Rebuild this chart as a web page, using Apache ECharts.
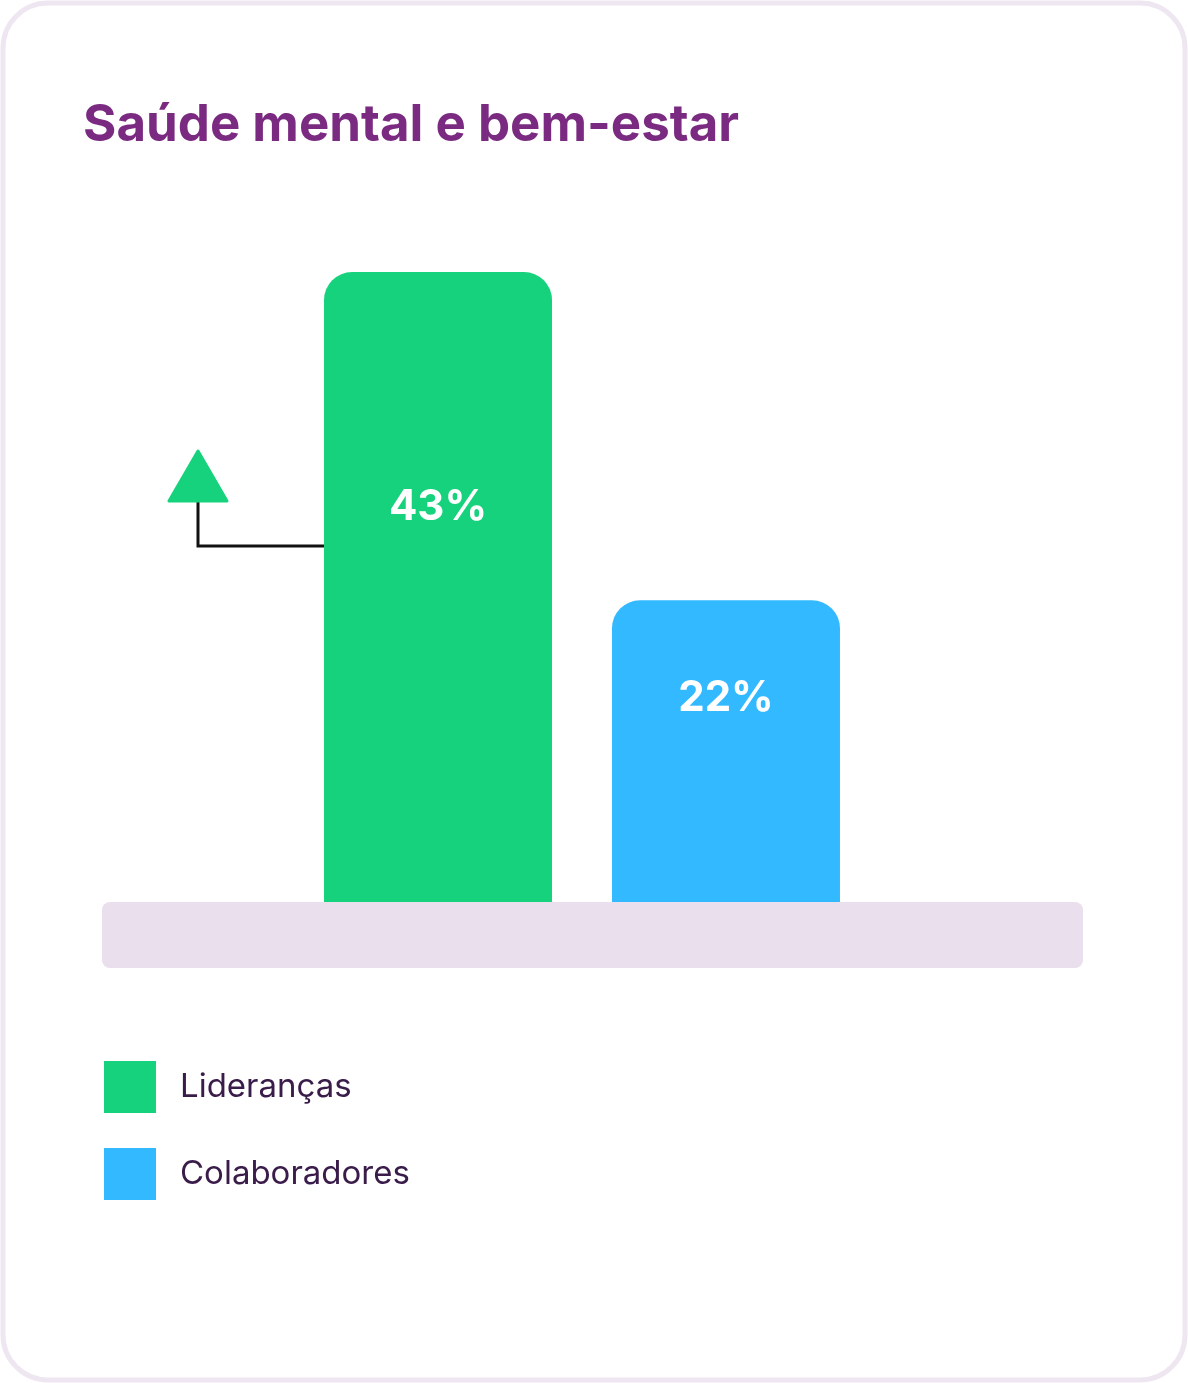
<!DOCTYPE html>
<html>
<head>
<meta charset="utf-8">
<script src="https://cdn.jsdelivr.net/npm/echarts@6/dist/echarts.min.js"></script>
<style>
html,body{margin:0;padding:0;background:#fff;}
#chart{width:1188px;height:1383px;}
</style>
</head>
<body>
<div id="chart"></div>
<script>
var title = 'Saúde mental e bem-estar';
var categories = ['Saúde mental e bem-estar'];
var seriesNames = ['Lideranças', 'Colaboradores'];
var liderancas = [43];
var colaboradores = [22];
var colors = ['#17D27C', '#33B9FF'];

var chart = echarts.init(document.getElementById('chart'));
var fontFam = 'Inter, "Noto Sans", sans-serif';

chart.setOption({
  backgroundColor: '#ffffff',
  animation: false,
  title: {
    text: title,
    left: 83,
    top: 100,
    padding: 0,
    textStyle: { color: '#7B2A81', fontSize: 51, fontWeight: 'bold', fontFamily: fontFam }
  },
  legend: {
    orient: 'vertical',
    left: 104,
    top: 1061,
    padding: 0,
    itemWidth: 52,
    itemHeight: 52,
    itemGap: 35,
    icon: 'rect',
    data: seriesNames,
    textStyle: { color: '#3A1C4A', fontSize: 33, fontFamily: fontFam, padding: [0, 0, 0, 19] },
    selectedMode: false
  },
  grid: { left: 102, right: 126, top: 272, bottom: 1383 - 902 },
  xAxis: {
    type: 'category',
    data: categories,
    axisLine: { show: false },
    axisTick: { show: false },
    axisLabel: { show: false }
  },
  yAxis: {
    type: 'value',
    min: 2.7,
    max: 43,
    show: false,
    splitLine: { show: false }
  },
  graphic: [
    {
      type: 'rect', z: -10, silent: true,
      shape: { x: 3, y: 3, width: 1182, height: 1377, r: 45 },
      style: { fill: '#ffffff', stroke: '#EEE6F0', lineWidth: 5 }
    },
    {
      type: 'rect', z: 10, silent: true,
      shape: { x: 102, y: 902, width: 981, height: 66, r: 8 },
      style: { fill: '#EADFEC' }
    },
    {
      type: 'polyline', z: 10, silent: true,
      shape: { points: [[198, 500], [198, 546], [324, 546]] },
      style: { stroke: '#111111', lineWidth: 3, fill: null }
    },
    {
      type: 'polygon', z: 11, silent: true,
      shape: { points: [[198, 451], [227, 501], [169, 501]], smooth: 0 },
      style: { fill: '#17D27C', stroke: '#17D27C', lineWidth: 3, lineJoin: 'round' }
    }
  ],
  series: [
    {
      name: seriesNames[0],
      type: 'bar',
      data: liderancas,
      barWidth: 228,
      barGap: '26.3%',
      itemStyle: { color: colors[0], borderRadius: [28, 28, 0, 0] },
      label: {
        show: true,
        position: ['50%', '37.3%'],
        align: 'center',
        verticalAlign: 'middle',
        formatter: '{c}%',
        color: '#ffffff',
        fontSize: 42,
        fontWeight: 'bold',
        fontFamily: fontFam
      }
    },
    {
      name: seriesNames[1],
      type: 'bar',
      data: colaboradores,
      barWidth: 228,
      itemStyle: { color: colors[1], borderRadius: [28, 28, 0, 0] },
      label: {
        show: true,
        position: ['50%', '32.5%'],
        align: 'center',
        verticalAlign: 'middle',
        formatter: '{c}%',
        color: '#ffffff',
        fontSize: 42,
        fontWeight: 'bold',
        fontFamily: fontFam
      }
    }
  ]
});
</script>
</body>
</html>
